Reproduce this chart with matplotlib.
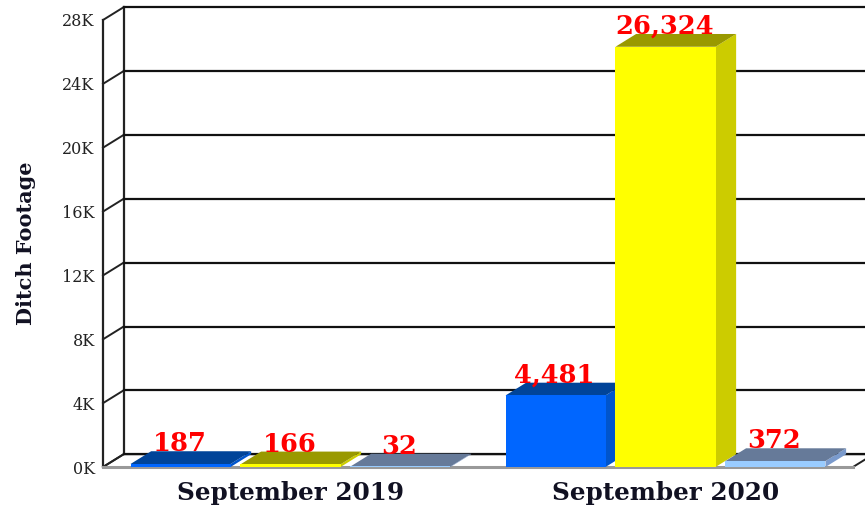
import matplotlib
matplotlib.use('Agg')
import matplotlib.pyplot as plt
from matplotlib.patches import Polygon

# ========== Data ==========
periods = ['September 2019', 'September 2020']
series_a = [187, 4481]
series_b = [166, 26324]
series_c = [32, 372]
y_ticks = [0, 4000, 8000, 12000, 16000, 20000, 24000, 28000]
y_tick_labels = ['0K', '4K', '8K', '12K', '16K', '20K', '24K', '28K']

# ========== Style ==========
front_colors = ['#0066FF', '#FFFF00', '#99CCFF']
top_colors = ['#004499', '#999900', '#667A99']
side_colors = ['#0055CC', '#CCCC00', '#7A9ACC']
BAR_W = 0.2667
STEP = 0.2933
DX = 0.055   # 3D depth, x units
DY = 800     # 3D depth, value units
W, H = 865, 513

plt.rcParams['font.family'] = ['DejaVu Serif']

fig = plt.figure(figsize=(W / 100, H / 100), dpi=100)
ax = fig.add_axes([103 / W, 1 - 467 / H, 750 / W, 447 / H])
ax.set_xlim(0, 2)
ax.set_ylim(0, 28000)
for s in ax.spines.values():
    s.set_visible(False)

# walls and floor
ax.add_patch(Polygon([(0, 0), (DX, DY), (2 + DX, DY), (2, 0)], closed=True,
                     fc='white', ec='#222222', lw=1.4, clip_on=False, zorder=1))
ax.plot([0, 2], [0, 0], color='#999999', lw=2.2, clip_on=False, zorder=1.5)
ax.plot([0, 0], [0, 28000], color='#222222', lw=1.6, clip_on=False, zorder=1.2)
ax.plot([DX, DX], [DY, 28000 + DY], color='#222222', lw=1.6, clip_on=False, zorder=1.2)
for v in y_ticks:
    ax.plot([0, DX], [v, v + DY], color='#222222', lw=1.4, clip_on=False, zorder=1.2)
    ax.plot([DX, 2 + DX], [v + DY, v + DY], color='#111111', lw=1.6, clip_on=False, zorder=1.2)

# bars
for i, values in enumerate([series_a, series_b, series_c]):
    for g, v in enumerate(values):
        x0 = g + 0.5 + (i - 1) * STEP - BAR_W / 2
        x1 = x0 + BAR_W
        z = 3 + g
        ax.add_patch(Polygon([(x1, 0), (x1 + DX, DY), (x1 + DX, v + DY), (x1, v)],
                             closed=True, fc=side_colors[i], ec='none', clip_on=False, zorder=z))
        ax.add_patch(Polygon([(x0, v), (x0 + DX, v + DY), (x1 + DX, v + DY), (x1, v)],
                             closed=True, fc=top_colors[i], ec='none', clip_on=False, zorder=z))
        ax.add_patch(Polygon([(x0, 0), (x1, 0), (x1, v), (x0, v)],
                             closed=True, fc=front_colors[i], ec='none', clip_on=False, zorder=z))
        ax.text((x0 + x1) / 2 - 0.003, v + DY, f'{v:,}', color='#FF0000', fontsize=18.5, fontweight='bold',
                ha='center', va='baseline', clip_on=False, zorder=10)

ax.set_yticks(y_ticks)
ax.set_yticklabels(y_tick_labels, fontsize=11.5, color='#222222')
ax.set_xticks([0.5, 1.5])
ax.set_xticklabels(periods, fontsize=17.7, fontweight='bold', color='#111122')
ax.tick_params(axis='y', length=0, pad=6)
ax.tick_params(axis='x', length=0, pad=10)
ax.set_ylabel('Ditch Footage', fontsize=15, fontweight='bold', color='#111122')
ax.yaxis.set_label_coords(-0.09, 0.5)

fig.savefig('out.png', dpi=100)
